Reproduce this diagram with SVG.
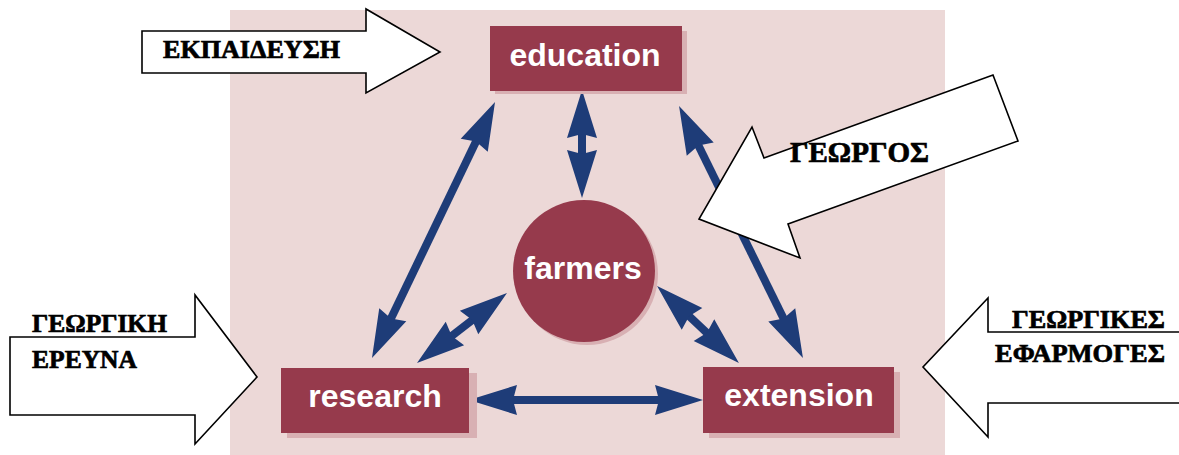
<svg xmlns="http://www.w3.org/2000/svg" width="1179" height="455" viewBox="0 0 1179 455">
<defs>
<style>
.bg{fill:#ECD8D7}
.box{fill:#963A4C}
.shadow{fill:#D8B0B3}
.lbl{font-family:"Liberation Sans",Arial,sans-serif;font-weight:bold;font-size:32px;fill:#FFFFFF;text-anchor:middle}
.conn{stroke:#1E3C78;stroke-width:8;fill:none}
.block{fill:#FFFFFF;stroke:#000000;stroke-width:1.6;stroke-linejoin:miter}
.gr{font-family:"Liberation Serif","Times New Roman",serif;font-weight:bold;font-size:26px;fill:#000000;stroke:#000000;stroke-width:0.7}
</style>
<marker id="head" markerUnits="userSpaceOnUse" markerWidth="60" markerHeight="40" viewBox="-10 -20 60 40" refX="0" refY="0" orient="auto-start-reverse" overflow="visible">
<path d="M40,0 L-8,-15 L-4,0 L-8,15 Z" fill="#1E3C78"/>
</marker>
</defs>
<rect class="bg" x="230" y="10" width="715" height="445"/>

<g id="connectors">
<line class="conn" x1="582" y1="130" x2="582" y2="158" marker-start="url(#head)" marker-end="url(#head)"/>
<line class="conn" x1="477.7" y1="138" x2="389.3" y2="322" marker-start="url(#head)" marker-end="url(#head)"/>
<line class="conn" x1="696.7" y1="141.9" x2="785.3" y2="322.1" marker-start="url(#head)" marker-end="url(#head)"/>
<line class="conn" x1="475.4" y1="317.6" x2="448.6" y2="338.4" marker-start="url(#head)" marker-end="url(#head)"/>
<line class="conn" x1="686.2" y1="313.4" x2="709.8" y2="335.6" marker-start="url(#head)" marker-end="url(#head)"/>
<line class="conn" x1="509" y1="400" x2="663" y2="400" marker-start="url(#head)" marker-end="url(#head)"/>
</g>

<g id="education">
<rect class="shadow" x="495" y="31" width="192" height="63"/>
<rect class="box" x="490" y="26" width="192" height="65"/>
<text class="lbl" x="585" y="66">education</text>
</g>
<g id="farmers">
<circle class="shadow" cx="587" cy="274" r="71"/>
<circle class="box" cx="584" cy="271" r="71"/>
<text class="lbl" x="583" y="279">farmers</text>
</g>
<g id="research">
<rect class="shadow" x="287" y="373" width="190" height="65"/>
<rect class="box" x="281" y="368" width="188" height="65"/>
<text class="lbl" x="375" y="407">research</text>
</g>
<g id="extension">
<rect class="shadow" x="709" y="372" width="191" height="66"/>
<rect class="box" x="703" y="367" width="191" height="66"/>
<text class="lbl" x="799" y="406">extension</text>
</g>

<g id="arrow-ekpaideusi">
<polygon class="block" points="142,31 366,31 366,9 440,52 366,93 366,73 142,73"/>
<text class="gr" x="163" y="58" textLength="177" lengthAdjust="spacingAndGlyphs">ΕΚΠΑΙΔΕΥΣΗ</text>
</g>
<g id="arrow-georgos">
<polygon class="block" points="993,75 1018,141 788,224 800,258 699,219 752,127 764,158"/>
<text class="gr" x="790" y="162" style="font-size:29.5px" textLength="139" lengthAdjust="spacingAndGlyphs">ΓΕΩΡΓΟΣ</text>
</g>
<g id="arrow-ereuna">
<polygon class="block" points="10,337 195,337 195,295 257,377 195,444 195,415 10,415"/>
<text class="gr" x="32" y="332" textLength="135" lengthAdjust="spacingAndGlyphs">ΓΕΩΡΓΙΚΗ</text>
<text class="gr" x="32" y="368" textLength="105" lengthAdjust="spacingAndGlyphs">ΕΡΕΥΝΑ</text>
</g>
<g id="arrow-efarmoges">
<polygon class="block" points="1185,332 988,332 988,298 923,367 988,437 988,403 1185,403"/>
<text class="gr" x="1012" y="328" textLength="153" lengthAdjust="spacingAndGlyphs">ΓΕΩΡΓΙΚΕΣ</text>
<text class="gr" x="995" y="362" textLength="170" lengthAdjust="spacingAndGlyphs">ΕΦΑΡΜΟΓΕΣ</text>
</g>
</svg>
